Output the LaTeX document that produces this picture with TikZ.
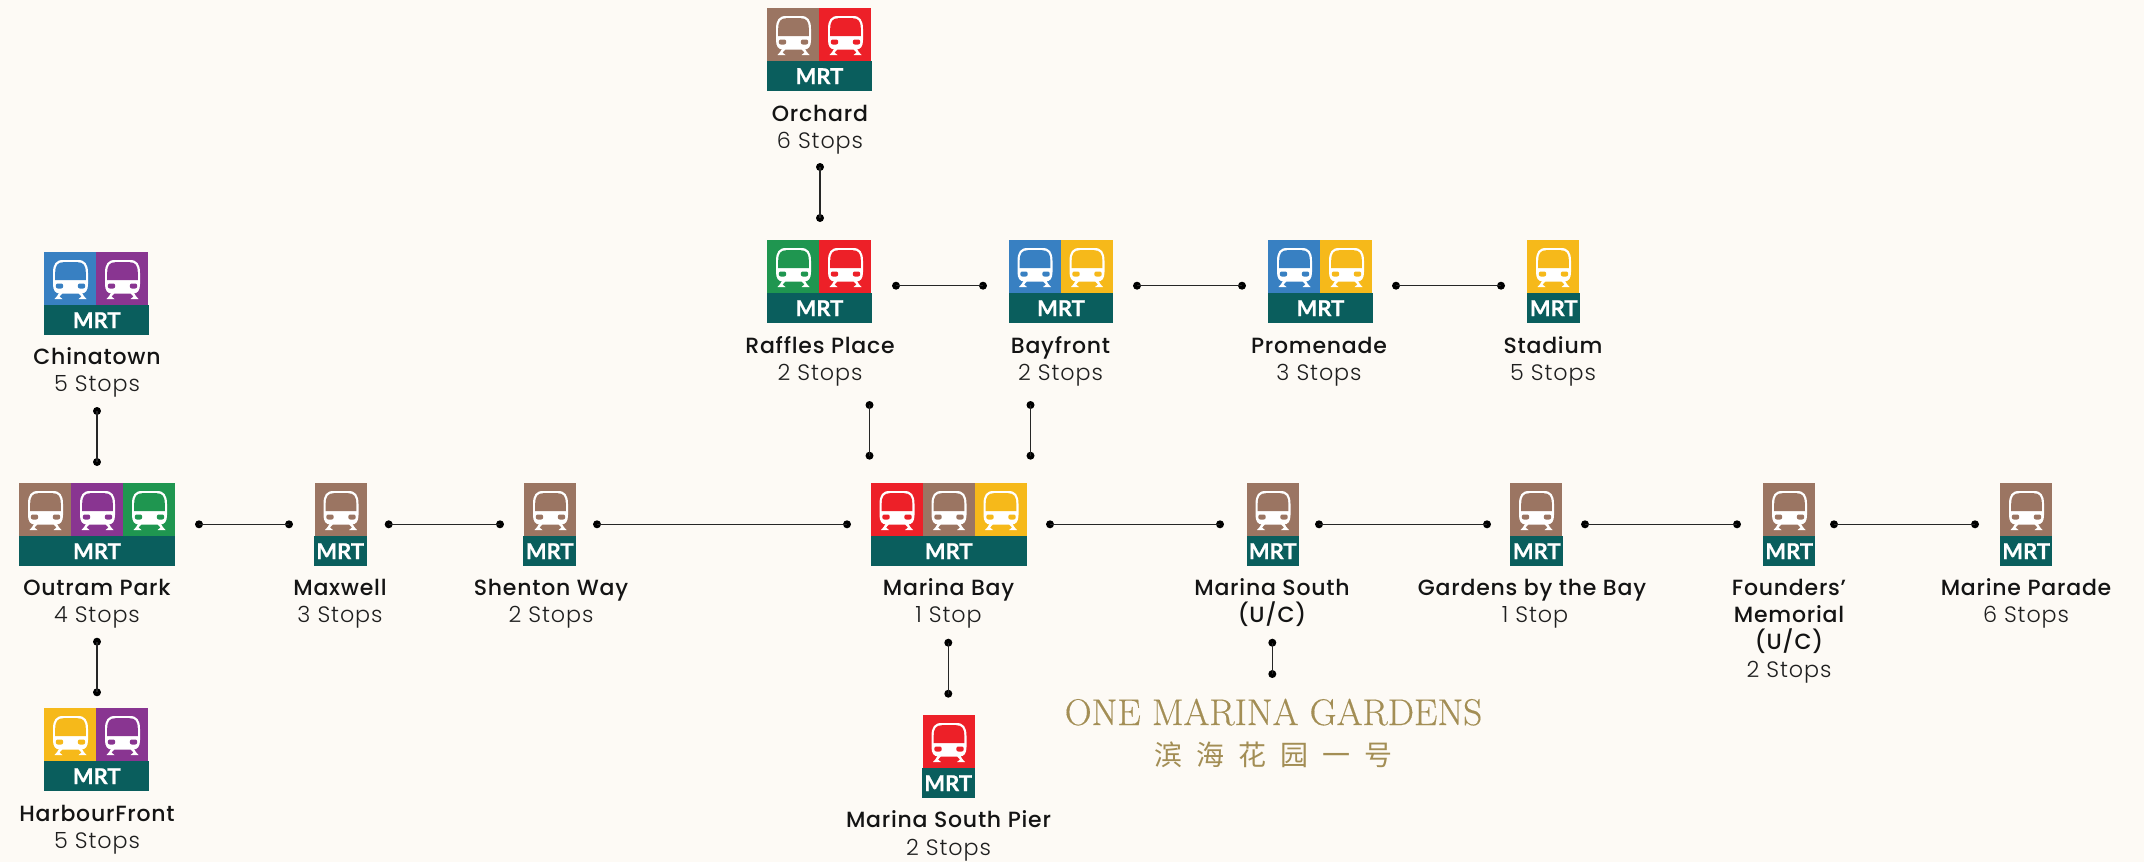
\documentclass[tikz,border=0pt]{standalone}
\usepackage{fontspec}
\newfontfamily\namefont{Poppins}[UprightFont=* Medium,LetterSpace=3.5]
\newfontfamily\stopfont{Poppins}[UprightFont=* Light,LetterSpace=4]
\newfontfamily\mrtfont{Lato}[UprightFont=* Bold,RawFeature={embolden=0.6}]
\newfontfamily\logofont{Latin Modern Roman}[RawFeature={embolden=0.35}]
\newfontfamily\cjkfont{Noto Sans CJK SC}
\definecolor{bgc}{HTML}{FDFAF5}
\definecolor{br}{HTML}{9B7562}
\definecolor{rd}{HTML}{ED2028}
\definecolor{yl}{HTML}{F6B91A}
\definecolor{bl}{HTML}{3880C2}
\definecolor{pu}{HTML}{893591}
\definecolor{gn}{HTML}{1F9650}
\definecolor{teal}{HTML}{0A5E5D}
\definecolor{gold}{HTML}{A38E55}
\tikzset{
  x=1pt,y=-1pt,
  band/.style={fill=teal,draw=none,inner sep=0pt,anchor=north west,minimum height=30pt,text=white,font=\mrtfont\fontsize{22}{23}\selectfont},
  cell/.style={fill=#1,draw=none},
  namelabel/.style={anchor=base,inner sep=0pt,text=black!92,font=\namefont\fontsize{22}{24}\selectfont},
  stoplabel/.style={anchor=base,inner sep=0pt,text=black!88,font=\stopfont\fontsize{22.3}{24}\selectfont},
  dotnode/.style={circle,fill=black,draw=none,inner sep=0pt,minimum size=8pt},
  linkline/.style={draw=black!85,line width=1.4pt},
}
% train glyph, origin = top left corner of the cell
\newcommand{\traincell}[3]{%
  \begin{scope}[shift={(#1,#2)}]
    \fill[cell=#3] (0,0) rectangle (52,53);
    % feet
    \fill[white] (15.5,40)--(19.5,40)--(15.5,44.6)--(18.5,47)--(10.5,47)--(13,44.2)--cycle;
    \fill[white] (37.5,40)--(33.5,40)--(37.5,44.6)--(34.5,47)--(42.5,47)--(40,44.2)--cycle;
    % body
    \fill[white] (9,32) -- (9,21) .. controls (9,12) and (12,8) .. (19,8) -- (34,8) .. controls (41,8) and (44,12) .. (44,21) -- (44,32)
       .. controls (44,38) and (42,41.5) .. (37,41.5) -- (16,41.5) .. controls (11,41.5) and (9,38) .. (9,32) -- cycle;
    % window
    \fill[#3] (11.2,28) -- (11.2,21) .. controls (11.2,13.5) and (13.5,10.2) .. (19.5,10.2) -- (33.5,10.2) .. controls (39.5,10.2) and (41.8,13.5) .. (41.8,21) -- (41.8,28) -- cycle;
    % lamps
    \fill[#3,rounded corners=2pt] (11.8,31.5) rectangle (19.2,36.5);
    \fill[#3,rounded corners=2pt] (33.8,31.5) rectangle (41.2,36.5);
  \end{scope}}
% id, x, y, number of cells, colours, band left, band width
\newcommand{\station}[7]{%
  \foreach \c [count=\i from 0] in {#5} {\traincell{#2+52*\i}{#3}{\c}}
  \node[band,minimum width=#7 pt] (#1) at (#6,#3+53) {MRT};
}
\newcommand{\link}[6]{%
  \node[dotnode] (#1) at (#3,#4) {};
  \node[dotnode] (#2) at (#5,#6) {};
  \draw[linkline] (#1.center) -- (#2.center);
}
\newcommand{\nm}[4]{\node[namelabel] (#1) at (#2,#3) {#4};}
\newcommand{\st}[4]{\node[stoplabel] (#1) at (#2,#3) {#4};}
\begin{document}
\begin{tikzpicture}
\useasboundingbox (0,0) rectangle (2144,862);
\fill[bgc] (0,0) rectangle (2144,862);

\station{orchardicon}{767}{8}{2}{br,rd}{767}{104.5}
\station{rafflesicon}{767}{240}{2}{gn,rd}{767}{104.5}
\station{bayfronticon}{1008.5}{240}{2}{bl,yl}{1008.5}{104.5}
\station{promenadeicon}{1268}{240}{2}{bl,yl}{1268}{104.5}
\station{stadiumicon}{1527}{240}{1}{yl}{1527}{53}
\station{chinatownicon}{44}{252}{2}{bl,pu}{44}{105}
\station{outramicon}{19}{483}{3}{br,pu,gn}{19}{155.5}
\station{maxwellicon}{314.5}{483}{1}{br}{313.5}{53}
\station{shentonicon}{524}{483}{1}{br}{523}{53}
\station{bayicon}{870.5}{483}{3}{rd,br,yl}{870.5}{156}
\station{southicon}{1246.5}{483}{1}{br}{1246.5}{52}
\station{gardensicon}{1510}{483}{1}{br}{1510}{53}
\station{foundersicon}{1763}{483}{1}{br}{1763}{52}
\station{paradeicon}{2000}{483}{1}{br}{2000}{52}
\station{harbouricon}{44}{708}{2}{yl,pu}{44}{105}
\station{piericon}{922.5}{715}{1}{rd}{921.5}{53}

\nm{n1}{820}{121}{Orchard}\st{s1}{820}{148}{6 Stops}
\nm{n2}{820}{353}{Raffles Place}\st{s2}{820}{380}{2 Stops}
\nm{n3}{1060.5}{353}{Bayfront}\st{s3}{1060.5}{380}{2 Stops}
\nm{n4}{1319}{353}{Promenade}\st{s4}{1319}{380}{3 Stops}
\nm{n5}{1553}{353}{Stadium}\st{s5}{1553}{380}{5 Stops}
\nm{n6}{97}{364.5}{Chinatown}\st{s6}{97}{391.5}{5 Stops}
\nm{n7}{97}{595}{Outram Park}\st{s7}{97}{622.5}{4 Stops}
\nm{n8}{340}{595}{Maxwell}\st{s8}{340}{622.5}{3 Stops}
\nm{n9}{551}{595}{Shenton Way}\st{s9}{551}{622.5}{2 Stops}
\nm{n10}{948.5}{595}{Marina Bay}\st{s10}{948.5}{622.5}{1 Stop}
\nm{n11}{1272}{595}{Marina South}\nm{n11b}{1272}{622.5}{(U/C)}
\nm{n12}{1532}{595}{Gardens by the Bay}\st{s12}{1535}{622.5}{1 Stop}
\nm{n13}{1789}{595}{Founders’}\nm{n13b}{1789}{622.5}{Memorial}\nm{n13c}{1789}{649.5}{(U/C)}\st{s13}{1789}{677}{2 Stops}
\nm{n14}{2026}{595}{Marine Parade}\st{s14}{2026}{622.5}{6 Stops}
\nm{n15}{97}{821}{HarbourFront}\st{s15}{97}{848}{5 Stops}
\nm{n16}{948.5}{827}{Marina South Pier}\st{s16}{948.5}{855}{2 Stops}

\link{a1}{b1}{820}{167}{820}{218}
\link{a2}{b2}{896}{285.7}{983}{285.7}
\link{a3}{b3}{1137}{285.7}{1242}{285.7}
\link{a4}{b4}{1396}{285.7}{1501}{285.7}
\link{a5}{b5}{869.5}{405}{869.5}{455.7}
\link{a6}{b6}{1030.5}{405}{1030.5}{455.7}
\link{a7}{b7}{97}{411}{97}{462}
\link{a8}{b8}{199}{524.3}{289}{524.3}
\link{a9}{b9}{388.7}{524.3}{500}{524.3}
\link{a10}{b10}{597}{524.3}{847}{524.3}
\link{a11}{b11}{1050}{524.3}{1220}{524.3}
\link{a12}{b12}{1319}{524.3}{1487}{524.3}
\link{a13}{b13}{1585}{524.3}{1737}{524.3}
\link{a14}{b14}{1834}{524.3}{1975}{524.3}
\link{a15}{b15}{97}{641.7}{97}{692.3}
\link{a16}{b16}{948.3}{642.7}{948.3}{693.7}
\link{a17}{b17}{1272.3}{642.7}{1272.3}{674}

\node[anchor=base,inner sep=0pt,text=gold,font=\logofont\fontsize{37.2}{40}\selectfont] (logo) at (1273.5,725) {ONE MARINA GARDENS};
\node[anchor=center,inner sep=0pt,text=gold,font=\cjkfont\fontsize{28}{32}\selectfont] (logozh) at (1273.5,755) {滨\hspace{14pt}海\hspace{14pt}花\hspace{14pt}园\hspace{14pt}一\hspace{14pt}号};
\end{tikzpicture}
\end{document}
